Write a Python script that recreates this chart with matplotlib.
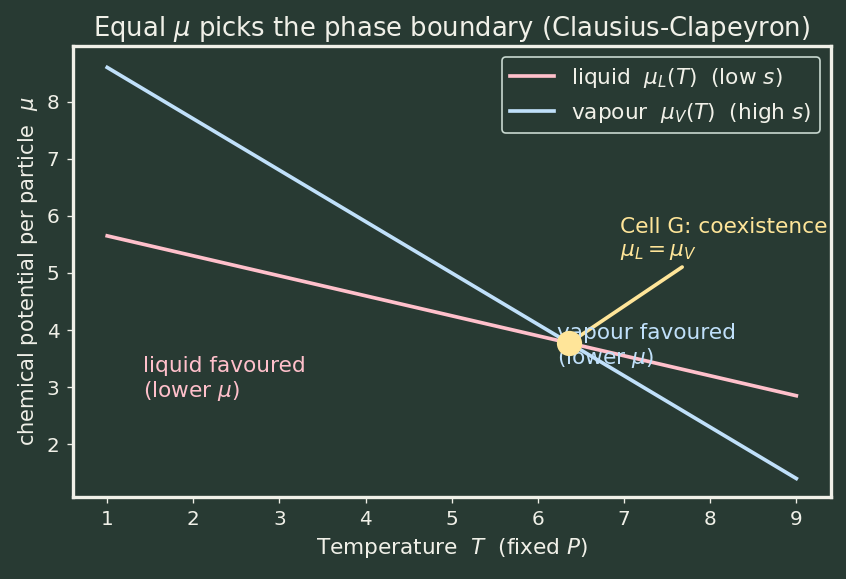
import numpy as np
import matplotlib
matplotlib.use("Agg")
import matplotlib.pyplot as plt

T = np.array([1.0, 9.0])
mu_liquid = np.array([5.65, 2.85])
mu_vapour = np.array([8.6, 1.4])
T_coex = 6.364
mu_coex = 3.773

bg = '#283a33'
fg = '#f0f0e8'
pink = '#ffc0cb'
blue = '#c0e0fa'
gold = '#ffe599'

plt.rcParams['font.size'] = 12
fig = plt.figure(figsize=(7.05, 4.825), dpi=120, facecolor=bg)
ax = fig.add_axes([0.086, 0.142, 0.896, 0.778], facecolor=bg)

ax.plot(T, mu_liquid, color=pink, lw=2.2, label=r'liquid  $\mu_L(T)$  (low $s$)')
ax.plot(T, mu_vapour, color=blue, lw=2.2, label=r'vapour  $\mu_V(T)$  (high $s$)')
ax.scatter([T_coex], [mu_coex], s=200, color=gold, zorder=5)

ax.annotate('Cell G: coexistence\n' + r'$\mu_L = \mu_V$', xy=(T_coex, mu_coex),
            xytext=(6.95, 5.3), color=gold, fontsize=13,
            arrowprops=dict(arrowstyle='-', color=gold, lw=2.2, shrinkA=2, shrinkB=5))
ax.text(1.42, 2.82, 'liquid favoured\n' + r'(lower $\mu$)', color=pink, fontsize=13)
ax.text(6.22, 3.4, 'vapour favoured\n' + r'(lower $\mu$)', color=blue, fontsize=13)

ax.set_xlim(0.6, 9.4)
ax.set_ylim(1.08, 8.97)
ax.set_title(r'Equal $\mu$ picks the phase boundary (Clausius-Clapeyron)', color=fg, fontsize=15.5)
ax.set_xlabel(r'Temperature  $T$  (fixed $P$)', color=fg, fontsize=13)
ax.set_ylabel(r'chemical potential per particle  $\mu$', color=fg, fontsize=12.6)
ax.tick_params(colors=fg, labelsize=12, pad=4.5)
for s in ax.spines.values():
    s.set_color(fg)
    s.set_linewidth(2)

leg = ax.legend(loc='upper right', fontsize=13, facecolor=bg, edgecolor='#c8d8d0', framealpha=1)
for t in leg.get_texts():
    t.set_color(fg)

fig.savefig('out.png', dpi=120, facecolor=bg)
